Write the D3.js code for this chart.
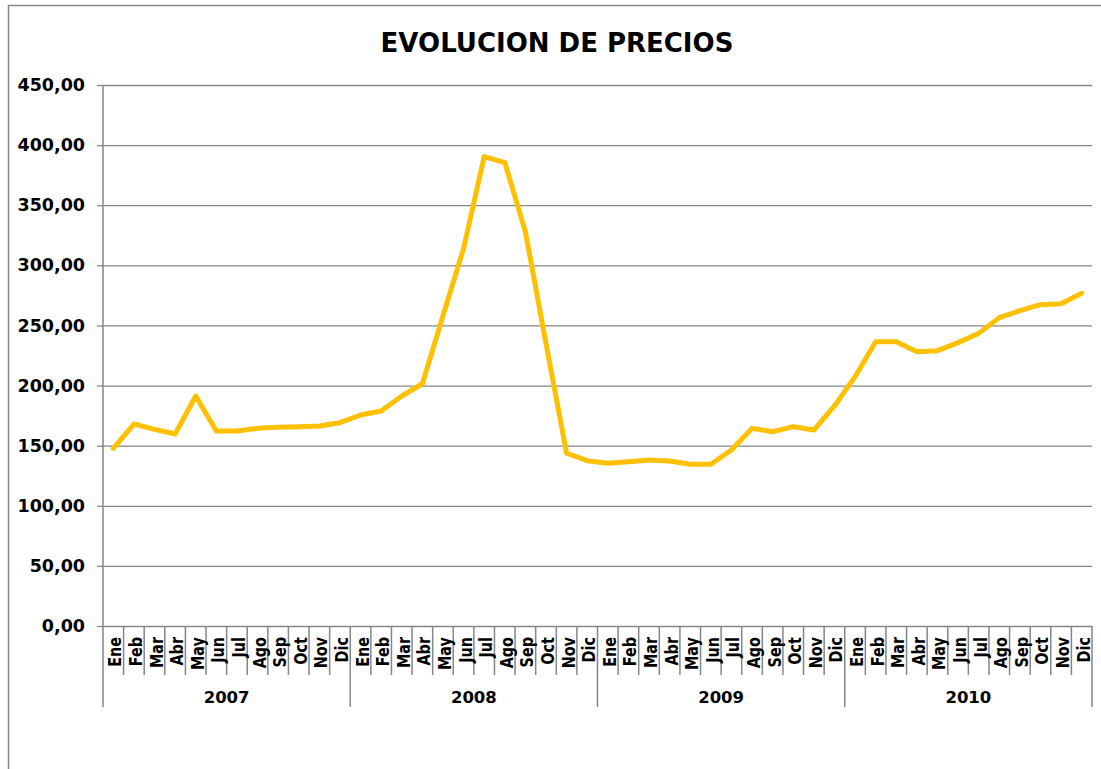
<!DOCTYPE html>
<html>
<head>
<meta charset="utf-8">
<script src="https://cdn.jsdelivr.net/npm/d3@7"></script>
<style>
  body { margin: 0; background: #fff; }
  text { font-family: "DejaVu Sans", Verdana, sans-serif; font-weight: bold; fill: #000; }
</style>
</head>
<body>
<div id="chart"></div>
<script>
// datos
var years = ["2007", "2008", "2009", "2010"];
var months = ["Ene", "Feb", "Mar", "Abr", "May", "Jun", "Jul", "Ago", "Sep", "Oct", "Nov", "Dic"];
var precios2007 = [147.8, 168.0, 163.6, 159.7, 191.3, 162.2, 162.2, 164.4, 165.3, 165.8, 166.4, 169.1];
var precios2008 = [175.5, 178.8, 191.3, 201.5, 258.0, 314.0, 390.4, 385.5, 328.0, 235.0, 143.7, 137.5];
var precios2009 = [135.3, 136.7, 138.1, 137.2, 134.5, 134.5, 146.4, 164.4, 161.6, 165.8, 163.0, 183.0];
var precios2010 = [207.4, 236.5, 236.5, 228.2, 229.0, 235.7, 243.4, 256.5, 262.3, 267.3, 268.1, 276.7];
var yTicks = [0, 50, 100, 150, 200, 250, 300, 350, 400, 450];

var W = 1101, H = 769;
var margin = {top: 85, right: 9, bottom: 143, left: 103};
var width = W - margin.left - margin.right,
    height = H - margin.top - margin.bottom;

var gridColor = "#868686";
var lineColor = "#FFC000";

var all = [precios2007, precios2008, precios2009, precios2010];
var data = [];
years.forEach(function(y, yi){
    months.forEach(function(m, mi){
        data.push({key: y + "-" + m, year: y, month: m, value: all[yi][mi]});
    });
});

var es = d3.formatLocale({decimal: ",", thousands: ".", grouping: [3], currency: ["", ""]});
var fmt = es.format(".2f");

var svg = d3.select("#chart").append("svg")
    .attr("width", W)
    .attr("height", H);

// marco del grafico
svg.append("rect")
    .attr("x", 8.5)
    .attr("y", 5.5)
    .attr("width", 1300)
    .attr("height", 1000)
    .attr("fill", "none")
    .attr("stroke", gridColor)
    .attr("stroke-width", 1.5);

svg.append("text")
    .attr("x", 557)
    .attr("y", 52)
    .attr("text-anchor", "middle")
    .style("font-size", "26px")
    .text("EVOLUCION DE PRECIOS");

var g = svg.append("g")
    .attr("transform", "translate(" + margin.left + "," + margin.top + ")");

var x = d3.scaleBand()
    .domain(data.map(function(d){ return d.key; }))
    .range([0, width]);

var xYear = d3.scaleBand()
    .domain(years)
    .range([0, width]);

var y = d3.scaleLinear()
    .domain([0, 450])
    .range([height, 0]);

// lineas de division
g.append("g")
    .attr("class", "grid")
    .call(d3.axisLeft(y).tickValues(yTicks).tickSize(-width).tickFormat(""))
    .call(function(s){ s.select(".domain").remove(); })
    .selectAll("line")
    .attr("stroke", gridColor)
    .attr("stroke-width", 1.3);

// eje y
var yAxis = g.append("g")
    .call(d3.axisLeft(y).tickValues(yTicks).tickSize(6).tickPadding(12).tickFormat(fmt));
yAxis.select(".domain").remove();
yAxis.selectAll("line").attr("stroke", gridColor).attr("stroke-width", 1.3);
yAxis.selectAll("text")
    .style("font-size", "17.5px")
    .style("font-family", "'DejaVu Sans', Verdana, sans-serif")
    .style("font-weight", "bold")
    .attr("fill", "#000");

g.append("line")
    .attr("x1", 0).attr("x2", 0)
    .attr("y1", 0).attr("y2", height)
    .attr("stroke", gridColor)
    .attr("stroke-width", 1.5);

// separadores de meses
g.selectAll(".msep")
    .data(data.slice(1))
    .enter().append("line")
    .attr("class", "msep")
    .attr("x1", function(d){ return x(d.key); })
    .attr("x2", function(d){ return x(d.key); })
    .attr("y1", height)
    .attr("y2", function(d){ return d.month === "Ene" ? height + 81 : height + 49; })
    .attr("stroke", gridColor)
    .attr("stroke-width", 1.5);

g.selectAll(".ysep")
    .data([0, width])
    .enter().append("line")
    .attr("x1", function(d){ return d; })
    .attr("x2", function(d){ return d; })
    .attr("y1", height)
    .attr("y2", height + 81)
    .attr("stroke", gridColor)
    .attr("stroke-width", 1.5);

// etiquetas de meses
g.selectAll(".mlabel")
    .data(data)
    .enter().append("text")
    .attr("class", "mlabel")
    .attr("text-anchor", "end")
    .attr("transform", function(d){
        return "translate(" + (x(d.key) + x.bandwidth() / 2 + 8) + "," + (height + 11) + ") rotate(-90) scale(0.8,1)";
    })
    .style("font-size", "18px")
    .text(function(d){ return d.month; });

// etiquetas de años
g.selectAll(".ylabel")
    .data(years)
    .enter().append("text")
    .attr("class", "ylabel")
    .attr("text-anchor", "middle")
    .attr("x", function(d){ return xYear(d) + xYear.bandwidth() / 2; })
    .attr("y", height + 77)
    .style("font-size", "16.5px")
    .text(function(d){ return d; });

// linea de precios
var line = d3.line()
    .x(function(d){ return x(d.key) + x.bandwidth() / 2; })
    .y(function(d){ return y(d.value); });

g.append("path")
    .datum(data)
    .attr("d", line)
    .attr("fill", "none")
    .attr("stroke", lineColor)
    .attr("stroke-width", 5)
    .attr("stroke-linejoin", "round")
    .attr("stroke-linecap", "round");
</script>
</body>
</html>
